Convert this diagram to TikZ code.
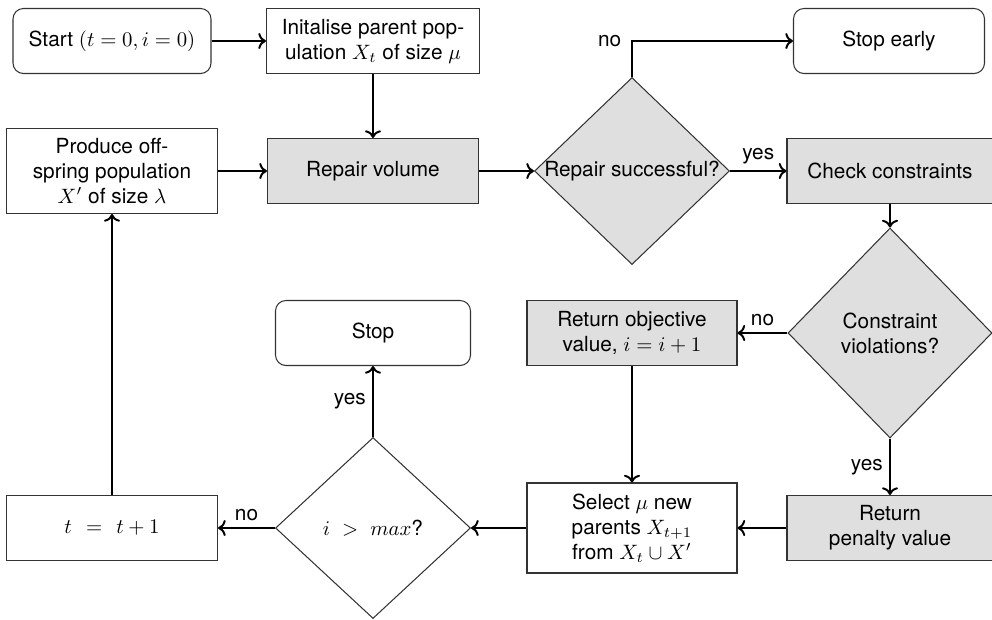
\documentclass[tikz,border=0pt]{standalone}
\usepackage{fontspec}
\setmainfont{TeX Gyre Heros}
\usetikzlibrary{shapes.geometric,arrows.meta}
\begin{document}
\begin{tikzpicture}[x=0.4808pt,y=-0.4808pt,
  sz/.style 2 args={minimum width=#1*0.4808pt, minimum height=#2*0.4808pt},
  base/.style={draw=black!80, line width=0.5pt, inner sep=2pt, align=center},
  proc/.style={base, rectangle},
  term/.style={base, rectangle, rounded corners=5pt},
  grey/.style={fill=gray!25},
  dec/.style={base, diamond, inner sep=0pt},
  conn/.style={->, line width=0.95pt},
  lab/.style={inner sep=3pt}]
\useasboundingbox (0,0) rectangle (992,619);

% nodes
\node[term, sz={198}{65}] (start) at (112,41) {Start $(t=0,i=0)$};
\node[proc, sz={213}{65}] (init) at (373,41) {Initalise parent pop-\\ulation $X_t$ of size $\mu$};
\node[term, sz={191}{65}] (stopearly) at (889,41) {Stop early};
\node[proc, sz={211}{85}] (produce) at (112,171) {Produce off-\\spring population\\$X'$ of size $\lambda$};
\node[proc, grey, sz={211}{65}] (repair) at (373,171) {Repair volume};
\node[dec, grey, sz={195}{187}, label=center:{Repair successful?}] (rs) at (632,171) {};
\node[proc, grey, sz={206}{65}] (check) at (890,171) {Check constraints};
\node[dec, grey, sz={204}{210}, label={[align=center]center:Constraint\\violations?}] (cv) at (890,333) {};
\node[proc, grey, sz={210}{65}] (retobj) at (632,333) {Return objective\\value, $i=i+1$};
\node[term, sz={195}{65}] (stop) at (373,333) {Stop};
\node[proc, sz={210}{90}] (select) at (632,528) {Select $\mu$ new\\parents $X_{t+1}$\\from $X_t\cup X'$};
\node[proc, grey, sz={206}{65}] (retpen) at (890,528) {Return\\penalty value};
\node[dec, sz={195}{181}, label=center:{$i\hspace{3pt}>\hspace{3pt}max$?}] (imax) at (373,528) {};
\node[proc, sz={211}{65}] (tinc) at (112,528) {$t\hspace{4pt}=\hspace{4pt}t+1$};

% connectors
\draw[conn] (start) -- (init);
\draw[conn] (init) -- (repair);
\draw[conn] (produce) -- (repair);
\draw[conn] (repair) -- (rs.west);
\draw[conn] (rs.north) |- (stopearly.west);
\node[lab, anchor=east] (no1) at ([xshift=-2pt]rs.north |- stopearly.west) {no};
\draw[conn] (rs.east) -- node[lab, above] (yes1) {yes} (check);
\draw[conn] (check) -- (cv.north);
\draw[conn] (cv.west) -- node[lab, above] (no2) {no} (retobj);
\draw[conn] (cv.south) -- node[lab, left] (yes2) {yes} (retpen);
\draw[conn] (retobj) -- (select);
\draw[conn] (retpen) -- (select);
\draw[conn] (select) -- (imax.east);
\draw[conn] (imax.west) -- node[lab, above] (no3) {no} (tinc);
\draw[conn] (imax.north) -- node[lab, left] (yes3) {yes} (stop);
\draw[conn] (tinc) -- (produce);
\end{tikzpicture}
\end{document}
